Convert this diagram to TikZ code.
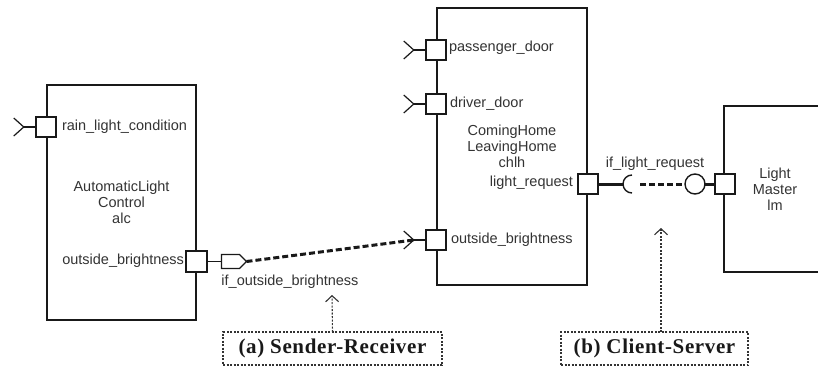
\documentclass[tikz,border=0pt]{standalone}
\usepackage{fontspec}
\setmainfont{Liberation Sans}
\newfontfamily\captionserif[LetterSpace=3]{Liberation Serif}
\usetikzlibrary{arrows.meta,shapes.symbols,calc}

\begin{document}
\begin{tikzpicture}[x=1pt,y=-1pt,
  every node/.style={inner sep=0pt, outer sep=0pt},
  sans/.style={font=\fontsize{14.5}{16}\selectfont, text=black!80},
  compbox/.style={draw=black!90, line width=2.2pt, sans, align=center},
  portbox/.style={draw=black!90, line width=1.8pt, fill=white, minimum size=20.5pt},
  recv/.style={draw=black!90, line width=1.2pt},
  wire/.style={draw=black!90, line width=1.4pt},
  thickwire/.style={draw=black!90, line width=3pt},
  sigdash/.style={draw=black!90, line width=3pt, dash pattern=on 6pt off 3pt},
  notebox/.style={draw=black!80, line width=1.1pt, dash pattern=on 2pt off 1.5pt,
    font=\captionserif\bfseries\fontsize{21}{24}\selectfont, text=black!90},
  notearrow/.style={draw=black!80, line width=1.1pt, dash pattern=on 2pt off 1.5pt,
    -{Straight Barb[length=6pt,width=13pt,line width=1.1pt]}},
]
\useasboundingbox (0,0) rectangle (818,369);

% components
\node[compbox, minimum width=149pt, minimum height=235pt] (alc) at (121.5,202.5)
  {AutomaticLight\\Control\\alc};
\node[compbox, minimum width=150pt, minimum height=277pt] (chlh) at (512,146.5)
  {ComingHome\\LeavingHome\\chlh};
\begin{scope}
  \clip (0,0) rectangle (818,369);
  \node[compbox, minimum width=102pt, minimum height=166pt] (lm) at (775,189)
    {Light\\Master\\lm};
\end{scope}

% ports
\node[portbox] (rain) at (46,127) {};
\node[portbox] (alcout) at (196.5,261.5) {};
\node[portbox] (pdoor) at (436,50) {};
\node[portbox] (ddoor) at (436,104) {};
\node[portbox] (ob) at (436,240) {};
\node[portbox] (lreq) at (588,184) {};
\node[portbox] (lmp) at (725,184) {};

% port labels
\node[sans, anchor=west] at (62,127) {rain\_light\_condition};
\node[sans, anchor=east] at (184,261) {outside\_brightness};
\node[sans, anchor=west] at (449,48) {passenger\_door};
\node[sans, anchor=west] at (450,104) {driver\_door};
\node[sans, anchor=west] at (451,240) {outside\_brightness};
\node[sans, anchor=east] at (573,183) {light\_request};

% receiver ports
\foreach \p in {rain,pdoor,ddoor,ob}{
  \coordinate (\p tip) at ($(\p.west)+(-12,0)$);
  \draw[recv] ($(\p tip)+(-10,-9)$) -- (\p tip) -- ($(\p tip)+(-10,9)$);
  \draw[wire] (\p tip) -- (\p.west);
}

% sender-receiver connection
\node[signal, signal to=east, draw=black!90, line width=1.2pt, fill=white,
  minimum width=25pt, minimum height=14pt] (snd) at (230.5,261.5) {};
\draw[wire] (alcout.east) -- (snd.west);
\draw[sigdash] (snd.east) -- (obtip);
\node[sans] at (290,282) {if\_outside\_brightness};

% client-server connection
\coordinate (sock) at (632,184);
\coordinate (sockmouth) at (640,184);
\draw[thickwire] (lreq.east) -- ($(sock)+(-9,0)$);
\draw[draw=black!90, line width=1.4pt] ($(sock)+(0,-9)$) arc[start angle=270, end angle=90, radius=9];
\node[circle, draw=black!90, line width=1.4pt, fill=white, minimum size=20pt] (ball) at (695,184) {};
\draw[sigdash] (sockmouth) -- (ball.west);
\draw[thickwire] (ball.east) -- (lmp.west);
\node[sans] at (655,164) {if\_light\_request};

% notes
\node[notebox, minimum width=219pt, minimum height=33pt] (sr) at (332.5,348.5) {(a) Sender-Receiver};
\node[notebox, minimum width=187pt, minimum height=33pt] (cs) at (654.5,348.5) {(b) Client-Server};
\coordinate (srtip) at (332,295);
\coordinate (cstip) at (661,228);
\draw[notearrow] (sr.north) -- (srtip);
\draw[notearrow] (cs.north -| cstip) -- (cstip);
\end{tikzpicture}
\end{document}
